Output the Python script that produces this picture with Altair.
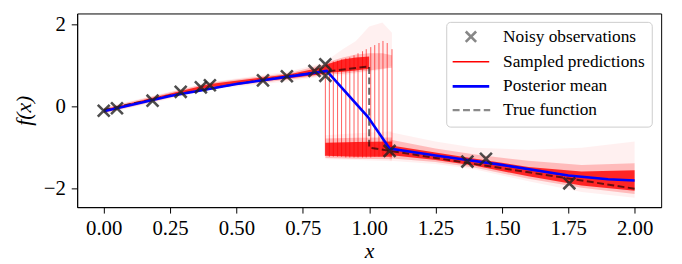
import altair as alt
import pandas as pd

# ---------------- data ----------------
obs_x = [0.00, 0.05, 0.184, 0.29, 0.366, 0.40, 0.60, 0.69, 0.794, 0.835, 0.835, 1.077, 1.37, 1.44, 1.754]
obs_y = [-0.10, -0.04, 0.145, 0.36, 0.47, 0.52, 0.64, 0.74, 0.87, 1.03, 0.75, -1.08, -1.34, -1.27, -1.87]

mean_x = [0.0, 0.25, 0.5, 0.75, 0.84, 0.995, 1.077, 1.25, 1.5, 1.75, 1.9, 2.0]
mean_y = [-0.11, 0.26, 0.55, 0.78, 0.87, -0.25, -1.02, -1.19, -1.42, -1.68, -1.77, -1.80]

true_x = [0.0, 0.25, 0.5, 0.75, 1.0, 1.0, 1.25, 1.5, 1.75, 2.0]
true_y = [-0.08, 0.27, 0.55, 0.79, 0.98, -1.0, -1.25, -1.5, -1.75, -2.0]

# sampled-prediction envelopes (segments: pre, upper jump, lower jump, post)
seg_pre_x = [0.0, 0.4, 0.7, 0.835]
seg_up_x = [0.835, 0.9, 0.95, 1.0, 1.05, 1.086]
seg_low_x = [0.835, 0.95, 1.086]
seg_post_x = [1.077, 1.25, 1.4, 1.6, 1.8, 2.0]

outer_pre_lo = [-0.18, 0.41, 0.62, 0.74]
outer_pre_hi = [-0.02, 0.6, 0.86, 1.08]
outer_up_lo = [0.74, 0.76, 0.8, 0.85, 0.9, 1.0]
outer_up_hi = [1.1, 1.4, 1.6, 1.95, 2.05, 1.8]
outer_low_lo = [-1.28, -1.3, -1.33]
outer_low_hi = [-0.7, -0.65, -0.6]
outer_post_lo = [-1.32, -1.4, -1.53, -1.82, -2.08, -2.22]
outer_post_hi = [-0.62, -0.85, -1.0, -1.05, -1.0, -0.85]

mid_pre_lo = [-0.16, 0.44, 0.66, 0.77]
mid_pre_hi = [-0.04, 0.58, 0.82, 1.04]
mid_up_lo = [0.78, 0.8, 0.84, 0.88, 0.92, 0.95]
mid_up_hi = [1.06, 1.2, 1.27, 1.3, 1.3, 1.25]
mid_low_lo = [-1.25, -1.27, -1.28]
mid_low_hi = [-0.78, -0.76, -0.75]
mid_post_lo = [-1.26, -1.35, -1.49, -1.76, -1.98, -2.13]
mid_post_hi = [-0.8, -1.02, -1.17, -1.32, -1.42, -1.38]

core_pre_lo = [-0.14, 0.47, 0.69, 0.80]
core_pre_hi = [-0.07, 0.55, 0.79, 0.98]
core_up_x = [0.835, 0.9, 0.95, 1.0]
core_up_lo = [0.82, 0.85, 0.88, 0.92]
core_up_hi = [1.02, 1.15, 1.2, 1.22]
core_low_lo = [-1.2, -1.22, -1.22]
core_low_hi = [-0.88, -0.86, -0.85]
core_post_lo = [-1.18, -1.3, -1.44, -1.7, -1.92, -2.05]
core_post_hi = [-0.94, -1.12, -1.27, -1.47, -1.58, -1.55]

# jumps of individual samples
jump_x = [0.835, 0.850, 0.865, 0.881, 0.896, 0.912, 0.927, 0.943, 0.958, 0.975,
          0.989, 1.006, 1.021, 1.037, 1.052, 1.068, 1.086]
jump_top = [1.0, 1.05, 1.1, 1.12, 1.15, 1.18, 1.2, 1.25, 1.3, 1.35,
            1.4, 1.45, 1.5, 1.55, 1.6, 1.55, 1.4]
jump_bottom = [-1.2, -1.22, -1.22, -1.22, -1.22, -1.24, -1.24, -1.24, -1.24, -1.24,
               -1.24, -1.24, -1.22, -1.22, -1.2, -1.18, -1.1]

series_names = ["Noisy observations", "Sampled predictions", "Posterior mean", "True function"]
series_colors = ["#555555", "#ff0000", "#0000ff", "#8a8a8a"]

x_ticks = [0.0, 0.25, 0.5, 0.75, 1.0, 1.25, 1.5, 1.75, 2.0]
y_ticks = [-2, 0, 2]

FONT = "Liberation Serif"
CROSS = "M-1,-1L1,1M-1,1L1,-1"


def band_frame(parts):
    rows = []
    for seg, xs, lo, hi in parts:
        for a, b, c in zip(xs, lo, hi):
            rows.append({"seg": seg, "x": a, "lo": b, "hi": c})
    return pd.DataFrame(rows)


outer_df = band_frame([("pre", seg_pre_x, outer_pre_lo, outer_pre_hi),
                       ("up", seg_up_x, outer_up_lo, outer_up_hi),
                       ("low", seg_low_x, outer_low_lo, outer_low_hi),
                       ("post", seg_post_x, outer_post_lo, outer_post_hi)])
mid_df = band_frame([("pre", seg_pre_x, mid_pre_lo, mid_pre_hi),
                     ("up", seg_up_x, mid_up_lo, mid_up_hi),
                     ("low", seg_low_x, mid_low_lo, mid_low_hi),
                     ("post", seg_post_x, mid_post_lo, mid_post_hi)])
core_df = band_frame([("pre", seg_pre_x, core_pre_lo, core_pre_hi),
                      ("up", core_up_x, core_up_lo, core_up_hi),
                      ("low", seg_low_x, core_low_lo, core_low_hi),
                      ("post", seg_post_x, core_post_lo, core_post_hi)])

obs_df = pd.DataFrame({"x": obs_x, "y": obs_y})
mean_df = pd.DataFrame({"x": mean_x, "y": mean_y, "i": list(range(len(mean_x)))})
true_df = pd.DataFrame({"x": true_x, "y": true_y, "i": list(range(len(true_x)))})
jump_df = pd.DataFrame({"x": jump_x, "top": jump_top, "bottom": jump_bottom})
legend_df = pd.DataFrame({"series": series_names})

xs = alt.Scale(domain=[-0.1, 2.1], nice=False, zero=False)
ys = alt.Scale(domain=[-2.45, 2.27], nice=False, zero=False)

X = alt.X("x:Q", scale=xs,
          axis=alt.Axis(values=x_ticks, format=".2f", title="x", grid=False))
Y = alt.Y("y:Q", scale=ys,
          axis=alt.Axis(values=y_ticks, format="d", title="f(x)", grid=False))


def band_layer(df, op):
    return alt.Chart(df).mark_area(color="#ff0000", opacity=op).encode(
        x=alt.X("x:Q", scale=xs),
        y=alt.Y("lo:Q", scale=ys),
        y2="hi:Q",
        detail="seg:N",
    )


outer = band_layer(outer_df, 0.06)
mid = band_layer(mid_df, 0.22)
core = band_layer(core_df, 0.8)

jumps = alt.Chart(jump_df).mark_rule(color="#ff0000", strokeWidth=0.9, opacity=0.7).encode(
    x=alt.X("x:Q", scale=xs),
    y=alt.Y("top:Q", scale=ys),
    y2="bottom:Q",
)

true_line = alt.Chart(true_df).mark_line(
    color="#000000", opacity=0.6, strokeWidth=2, strokeDash=[7, 3.5]
).encode(x=alt.X("x:Q", scale=xs), y=alt.Y("y:Q", scale=ys), order="i:Q")

mean_line = alt.Chart(mean_df).mark_line(color="#0000ff", strokeWidth=2.6).encode(
    x=alt.X("x:Q", scale=xs), y=alt.Y("y:Q", scale=ys), order="i:Q")

points = alt.Chart(obs_df).mark_point(
    shape=CROSS, size=144, filled=False, color="#222222", opacity=0.8, strokeWidth=2.6
).encode(x=X, y=Y)

# ---------------- legend box (pixel positions inside the plot area) ----------------
LEG_LEFT, LEG_RIGHT, LEG_TOP, LEG_BOTTOM = 374, 582, 9, 115
ROW_Y = [23.5, 48.8, 73.8, 97.8]
SYM_X0, SYM_X1, LABEL_X = 380, 417, 431

base_leg = alt.Chart(legend_df)
legend_layers = [
    base_leg.mark_rect(fill="#ffffff", fillOpacity=0.85, stroke="#cccccc",
                       strokeWidth=1, cornerRadius=4).encode(
        x=alt.value(LEG_LEFT), x2=alt.value(LEG_RIGHT),
        y=alt.value(LEG_TOP), y2=alt.value(LEG_BOTTOM)
    ).transform_filter(alt.datum.series == series_names[0]),
    base_leg.mark_point(shape=CROSS, size=110, filled=False, color=series_colors[0],
                        strokeWidth=2.6).encode(
        x=alt.value((SYM_X0 + SYM_X1) / 2), y=alt.value(ROW_Y[0])
    ).transform_filter(alt.datum.series == series_names[0]),
    base_leg.mark_rule(color=series_colors[1], strokeWidth=1.6).encode(
        x=alt.value(SYM_X0), x2=alt.value(SYM_X1), y=alt.value(ROW_Y[1])
    ).transform_filter(alt.datum.series == series_names[1]),
    base_leg.mark_rule(color=series_colors[2], strokeWidth=2.6).encode(
        x=alt.value(SYM_X0), x2=alt.value(SYM_X1), y=alt.value(ROW_Y[2])
    ).transform_filter(alt.datum.series == series_names[2]),
    base_leg.mark_rule(color=series_colors[3], strokeWidth=2.2, strokeDash=[7, 3.5]).encode(
        x=alt.value(SYM_X0), x2=alt.value(SYM_X1 + 1), y=alt.value(ROW_Y[3])
    ).transform_filter(alt.datum.series == series_names[3]),
]
for name, ry in zip(series_names, ROW_Y):
    legend_layers.append(
        base_leg.mark_text(align="left", baseline="middle", font=FONT, fontSize=17.5,
                           color="#000000").encode(
            x=alt.value(LABEL_X), y=alt.value(ry), text="series:N"
        ).transform_filter(alt.datum.series == name)
    )

chart = alt.layer(outer, mid, core, jumps, true_line, mean_line, points, *legend_layers).properties(
    width=591, height=196,
    autosize=alt.AutoSizeParams(type="none"),
    padding={"left": 70, "top": 4, "right": 13, "bottom": 56},
).configure(
    font=FONT
).configure_view(
    stroke="#000000", strokeWidth=1
).configure_axis(
    labelFont=FONT, labelFontSize=21, labelColor="#000000",
    titleFont=FONT, titleFontSize=22, titleFontStyle="italic", titleFontWeight="normal",
    titleColor="#000000", tickColor="#000000", tickSize=6, tickWidth=1,
    domainColor="#000000", domainWidth=1, labelPadding=5,
).configure_axisX(titlePadding=2).configure_axisY(titlePadding=8, labelPadding=6)

chart.save("out.html", embed_options={"renderer": "svg", "actions": False})
